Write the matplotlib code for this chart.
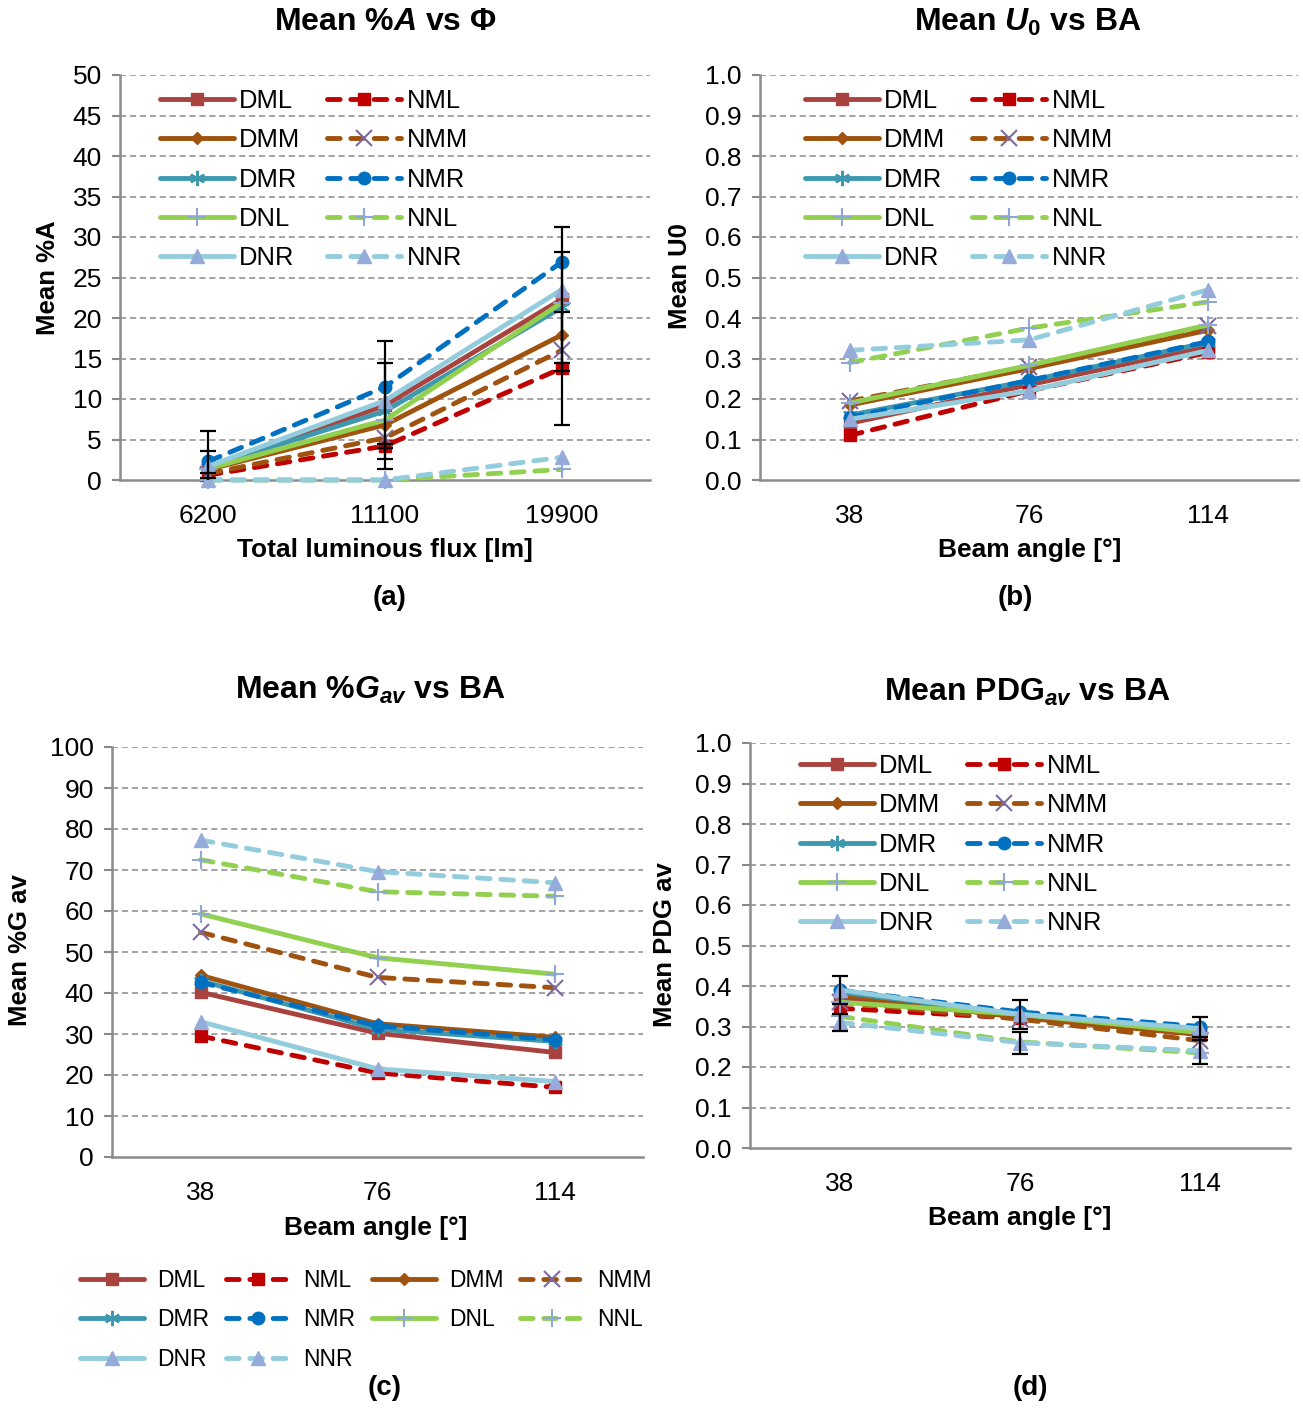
import matplotlib
matplotlib.use("Agg")
import matplotlib.pyplot as plt
import numpy as np

plt.rcParams['font.family'] = ['Liberation Sans', 'DejaVu Sans']
plt.rcParams['mathtext.fontset'] = 'custom'
plt.rcParams['mathtext.rm'] = 'Liberation Sans:bold'
plt.rcParams['mathtext.it'] = 'Liberation Sans:italic:bold'
plt.rcParams['mathtext.bf'] = 'Liberation Sans:bold'

# ---------------- data ----------------
series = ["DML", "NML", "DMM", "NMM", "DMR", "NMR", "DNL", "NNL", "DNR", "NNR"]
flux_labels = ["6200", "11100", "19900"]
ba_labels = ["38", "76", "114"]

# (a) Mean %A vs total luminous flux
a_vals = {
    "DML": [1.5, 9.2, 22.3], "NML": [0.6, 4.2, 13.8],
    "DMM": [1.3, 6.8, 17.9], "NMM": [0.8, 5.2, 16.0],
    "DMR": [1.6, 8.5, 21.3], "NMR": [2.3, 11.5, 26.9],
    "DNL": [1.4, 7.4, 21.9], "NNL": [0.0, 0.0, 1.3],
    "DNR": [1.7, 9.8, 23.5], "NNR": [0.0, 0.0, 2.8],
}
a_err = {"DML": [4.5, 7.9, 8.9], "DMR": [2.0, 5.9, 6.8], "NML": [0.3, 0.3, 7.0]}

# (b) Mean U0 vs beam angle
b_vals = {
    "DML": [0.14, 0.235, 0.33], "NML": [0.11, 0.22, 0.315],
    "DMM": [0.185, 0.275, 0.37], "NMM": [0.195, 0.28, 0.38],
    "DMR": [0.16, 0.245, 0.34], "NMR": [0.155, 0.246, 0.342],
    "DNL": [0.19, 0.283, 0.383], "NNL": [0.29, 0.375, 0.44],
    "DNR": [0.15, 0.22, 0.32], "NNR": [0.32, 0.346, 0.47],
}

# (c) Mean %Gav vs beam angle
c_vals = {
    "DML": [40.2, 30.2, 25.5], "NML": [29.5, 20.5, 17.0],
    "DMM": [44.3, 32.5, 29.2], "NMM": [54.8, 43.8, 41.3],
    "DMR": [43.0, 31.2, 28.2], "NMR": [42.6, 32.0, 28.6],
    "DNL": [59.3, 48.6, 44.6], "NNL": [72.5, 64.7, 63.6],
    "DNR": [33.0, 21.5, 18.4], "NNR": [77.3, 69.6, 66.9],
}

# (d) Mean PDGav vs beam angle
d_vals = {
    "DML": [0.37, 0.325, 0.285], "NML": [0.345, 0.32, 0.28],
    "DMM": [0.378, 0.322, 0.28], "NMM": [0.36, 0.318, 0.265],
    "DMR": [0.385, 0.33, 0.29], "NMR": [0.39, 0.336, 0.30],
    "DNL": [0.36, 0.33, 0.285], "NNL": [0.325, 0.262, 0.235],
    "DNR": [0.39, 0.33, 0.295], "NNR": [0.31, 0.26, 0.24],
}
d_err = {"DNR": [0.035, 0.035, 0.028], "NNR": [0.02, 0.027, 0.033]}

# ---------------- styles ----------------
C_DML = '#A9433F'; C_NML = '#C00000'; C_BR = '#A0520F'; C_DMR = '#3E98B0'
C_NMR = '#0070C0'; C_GR = '#92D050'; C_LB = '#93CDDD'
M_X = '#7F6A9F'; M_PL = '#8EA6D8'; M_TR = '#95ABDA'

styles = {
    "DML": dict(color=C_DML, ls='-', marker='s', ms=8, mfc=C_DML, mec=C_DML),
    "NML": dict(color=C_NML, ls='--', marker='s', ms=8, mfc=C_NML, mec=C_NML),
    "DMM": dict(color=C_BR, ls='-', marker='D', ms=6, mfc=C_BR, mec=C_BR),
    "NMM": dict(color=C_BR, ls='--', marker='x', ms=11, mfc=M_X, mec=M_X, mew=1.5),
    "DMR": dict(color=C_DMR, ls='-', marker=(6, 2, 0), ms=11, mfc=C_DMR, mec=C_DMR, mew=1.5),
    "NMR": dict(color=C_NMR, ls='--', marker='o', ms=9, mfc=C_NMR, mec=C_NMR),
    "DNL": dict(color=C_GR, ls='-', marker='+', ms=13, mfc=M_PL, mec=M_PL, mew=1.5),
    "NNL": dict(color=C_GR, ls='--', marker='+', ms=13, mfc=M_PL, mec=M_PL, mew=1.5),
    "DNR": dict(color=C_LB, ls='-', marker='^', ms=10, mfc=M_TR, mec=M_TR),
    "NNR": dict(color=C_LB, ls='--', marker='^', ms=10, mfc=M_TR, mec=M_TR),
}

W, H = 1303, 1417
fig = plt.figure(figsize=(W / 100, H / 100), dpi=100)


def rect(l, t, r, b):
    return [l / W, 1 - b / H, (r - l) / W, (b - t) / H]


def fx(x):
    return x / W


def fy(y):
    return 1 - y / H


TICK_FS = 19


def draw(ax, vals, ymax, ystep, xlabels, fmt, errs=None):
    x = np.arange(3)
    handles = {}
    for s in series:
        st = dict(styles[s])
        ls = st.pop('ls')
        line, = ax.plot(x, vals[s], lw=3.5, solid_capstyle='round',
                        dash_capstyle='round', clip_on=False, zorder=3, **st)
        if ls == '--':
            line.set_dashes((2.6, 2.2))
        handles[s] = line
    if errs:
        for s, e in errs.items():
            ax.errorbar(x, vals[s], yerr=e, fmt='none', ecolor='black',
                        elinewidth=1.6, capsize=6, capthick=1.6, zorder=4)
    ax.set_xlim(-0.5, 2.5)
    ax.set_ylim(0, ymax)
    ticks = np.arange(0, ymax + ystep / 2, ystep)
    ax.set_yticks(ticks)
    ax.set_yticklabels([fmt % t for t in ticks], fontsize=TICK_FS)
    ax.set_xticks(x)
    ax.set_xticklabels(xlabels, fontsize=TICK_FS)
    ax.tick_params(axis='x', length=0, pad=17)
    ax.tick_params(axis='y', length=6, width=1.5, color='#888888', pad=7, direction='out')
    for sp in ['top', 'right']:
        ax.spines[sp].set_visible(False)
    for sp in ['left', 'bottom']:
        ax.spines[sp].set_color('#8c8c8c')
        ax.spines[sp].set_linewidth(1.8)
    for t in ticks[1:]:
        ax.axhline(t, color='#8a8a8a', lw=1.1, ls=(0, (4, 2.5)), zorder=1)
    return handles


# (a)
axa = fig.add_axes(rect(120, 75, 650, 480))
ha = draw(axa, a_vals, 50, 5, flux_labels, '%d', a_err)
# (b)
axb = fig.add_axes(rect(760, 75, 1298, 480))
hb = draw(axb, b_vals, 1.0, 0.1, ba_labels, '%.1f')
# (c)
axc = fig.add_axes(rect(112, 747, 643, 1157))
hc = draw(axc, c_vals, 100, 10, ba_labels, '%d')
# (d)
axd = fig.add_axes(rect(750, 743, 1290, 1148))
hd = draw(axd, d_vals, 1.0, 0.1, ba_labels, '%.1f', d_err)

order2 = ["DML", "DMM", "DMR", "DNL", "DNR", "NML", "NMM", "NMR", "NNL", "NNR"]
for ax, h, (lx, ly) in [(axa, ha, (160, 89)), (axb, hb, (805, 89)), (axd, hd, (800, 754))]:
    ax.legend([h[s] for s in order2], order2, ncol=2, loc='upper left',
              bbox_to_anchor=(fx(lx), fy(ly)), bbox_transform=fig.transFigure,
              frameon=False, fontsize=18.4, handlelength=2.9, handletextpad=0.2,
              columnspacing=1.05, labelspacing=0.6, borderpad=0, borderaxespad=0)

order4 = ["DML", "DMR", "DNR", "NML", "NMR", "NNR", "DMM", "DNL", "NMM", "NNL"]
axc.legend([hc[s] for s in order4], order4, ncol=4, loc='upper left',
           bbox_to_anchor=(fx(80), fy(1269)), bbox_transform=fig.transFigure,
           frameon=False, fontsize=16.5, handlelength=2.8, handletextpad=0.55,
           columnspacing=0.75, labelspacing=0.72, borderpad=0, borderaxespad=0)

# titles
TFS = 23
fig.text(fx(385), fy(22), r"Mean %$\mathit{A}$ vs $\mathit{Φ}$", fontsize=TFS,
         fontweight='bold', ha='center', va='center')
fig.text(fx(1028), fy(22), r"Mean $\mathit{U}_0$ vs BA", fontsize=TFS,
         fontweight='bold', ha='center', va='center')
fig.text(fx(370), fy(690), r"Mean %$\mathit{G}_{\mathit{av}}$ vs BA", fontsize=TFS,
         fontweight='bold', ha='center', va='center')
fig.text(fx(1027), fy(692), r"Mean PDG$_{\mathit{av}}$ vs BA", fontsize=TFS,
         fontweight='bold', ha='center', va='center')

# x labels
for x, y, t in [(385, 550, "Total luminous flux [lm]"), (1030, 550, "Beam angle [°]"),
                (376, 1228, "Beam angle [°]"), (1020, 1218, "Beam angle [°]")]:
    fig.text(fx(x), fy(y), t, fontsize=19, fontweight='bold', ha='center', va='center')

# y labels
for x, y, t in [(48, 278, "Mean %A"), (680, 276, "Mean U0"),
                (20, 950, "Mean %G av"), (665, 945, "Mean PDG av")]:
    fig.text(fx(x), fy(y), t, fontsize=18.5, fontweight='bold', ha='center', va='center',
             rotation=90)

# panel letters
for x, y, t in [(390, 598, "(a)"), (1015, 598, "(b)"), (385, 1388, "(c)"), (1030, 1388, "(d)")]:
    fig.text(fx(x), fy(y), t, fontsize=20, fontweight='bold', ha='center', va='center')

fig.savefig("out.png", dpi=100)
